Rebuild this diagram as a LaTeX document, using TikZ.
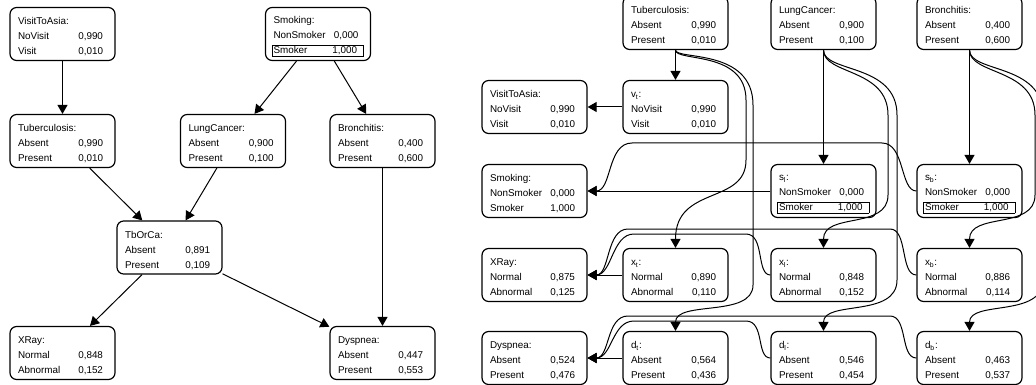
\documentclass[tikz,border=0pt]{standalone}
\usepackage{fontspec}
\setmainfont{Liberation Sans}
\usetikzlibrary{arrows.meta}
\setlength{\parindent}{0pt}
\setlength{\fboxsep}{0.75pt}
\setlength{\fboxrule}{0.5pt}
\newcommand{\bntitle}[1]{\leavevmode\rule{0pt}{9.5pt}\hspace*{-1.5pt}#1\par}
\newcommand{\bnrow}[2]{\hbox to\linewidth{\hspace*{-1.5pt}#1\hfill#2\hspace*{1.5pt}}}
\newcommand{\bnev}[2]{\hbox to\linewidth{\hspace*{-2.75pt}\fbox{\hbox to 66.5pt{#1\hfill#2\hspace*{3.75pt}}}\hss}}
\newcommand{\bnstates}[5]{\bntitle{#1}\bnrow{#2}{#3}\bnrow{#4}{#5}}
\newcommand{\bnstatesev}[5]{\bntitle{#1}\bnrow{#2}{#3}\bnev{#4}{#5}}

\begin{document}
\begin{tikzpicture}[x=0.75pt,y=-0.75pt,
  bn/.style={draw,rounded corners=5pt,line width=0.9pt,text width=63.75pt,inner xsep=7.5pt,inner ysep=0pt,minimum height=39.75pt,font=\fontsize{7.4}{11.25}\selectfont},
  link/.style={-{Triangle[length=6.75pt,width=7.5pt]},line width=0.75pt}]
  \useasboundingbox (0,0) rectangle (1036,385);
  \clip (0,0) rectangle (1036,385);

  \node[bn] (visit) at (62.5,34) {\bnstates{VisitToAsia:}{NoVisit}{0,990}{Visit}{0,010}};
  \node[bn] (smoking) at (318,34) {\bnstatesev{Smoking:}{NonSmoker}{0,000}{Smoker}{1,000}};
  \node[bn] (tb) at (62.5,141) {\bnstates{Tuberculosis:}{Absent}{0,990}{Present}{0,010}};
  \node[bn] (lc) at (233,141) {\bnstates{LungCancer:}{Absent}{0,900}{Present}{0,100}};
  \node[bn] (bc) at (382.5,141) {\bnstates{Bronchitis:}{Absent}{0,400}{Present}{0,600}};
  \node[bn] (tborca) at (169.5,247.5) {\bnstates{TbOrCa:}{Absent}{0,891}{Present}{0,109}};
  \node[bn] (xray) at (62.5,353) {\bnstates{XRay:}{Normal}{0,848}{Abnormal}{0,152}};
  \node[bn] (dysp) at (382.5,353) {\bnstates{Dyspnea:}{Absent}{0,447}{Present}{0,553}};
  \draw[link] (visit) -- (tb);
  \draw[link] (smoking) -- (lc);
  \draw[link] (smoking) -- (bc);
  \draw[link] (tb) -- (tborca);
  \draw[link] (lc) -- (tborca);
  \draw[link] (tborca) -- (xray);
  \draw[link] (tborca) -- (dysp);
  \draw[link] (bc) -- (dysp);

  \node[bn] (rtb) at (675.5,23) {\bnstates{Tuberculosis:}{Absent}{0,990}{Present}{0,010}};
  \node[bn] (rlc) at (823.5,23) {\bnstates{LungCancer:}{Absent}{0,900}{Present}{0,100}};
  \node[bn] (rbc) at (969.5,23) {\bnstates{Bronchitis:}{Absent}{0,400}{Present}{0,600}};
  \node[bn] (rvisit) at (534.5,107) {\bnstates{VisitToAsia:}{NoVisit}{0,990}{Visit}{0,010}};
  \node[bn] (vt) at (675.5,107) {\bnstates{v\textsubscript{t}:}{NoVisit}{0,990}{Visit}{0,010}};
  \node[bn] (rsmoking) at (534.5,191) {\bnstates{Smoking:}{NonSmoker}{0,000}{Smoker}{1,000}};
  \node[bn] (sl) at (823.5,191) {\bnstatesev{s\textsubscript{l}:}{NonSmoker}{0,000}{Smoker}{1,000}};
  \node[bn] (sb) at (969.5,191) {\bnstatesev{s\textsubscript{b}:}{NonSmoker}{0,000}{Smoker}{1,000}};
  \node[bn] (rxray) at (534.5,275) {\bnstates{XRay:}{Normal}{0,875}{Abnormal}{0,125}};
  \node[bn] (xt) at (675.5,275) {\bnstates{x\textsubscript{t}:}{Normal}{0,890}{Abnormal}{0,110}};
  \node[bn] (xl) at (823.5,275) {\bnstates{x\textsubscript{l}:}{Normal}{0,848}{Abnormal}{0,152}};
  \node[bn] (xb) at (969.5,275) {\bnstates{x\textsubscript{b}:}{Normal}{0,886}{Abnormal}{0,114}};
  \node[bn] (rdysp) at (534.5,358) {\bnstates{Dyspnea:}{Absent}{0,524}{Present}{0,476}};
  \node[bn] (dt) at (675.5,358) {\bnstates{d\textsubscript{t}:}{Absent}{0,564}{Present}{0,436}};
  \node[bn] (dl) at (823.5,358) {\bnstates{d\textsubscript{l}:}{Absent}{0,546}{Present}{0,454}};
  \node[bn] (db) at (969.5,358) {\bnstates{d\textsubscript{b}:}{Absent}{0,463}{Present}{0,537}};

  \draw[link] (rtb) -- (vt);
  \draw[link] (vt) -- (rvisit);
  \draw[link] (rlc) -- (sl);
  \draw[link] (sl) -- (rsmoking);
  \draw[link] (rbc) -- (sb);
  \draw[link] (xt) -- (rxray);
  \draw[link] (dt) -- (rdysp);
  \draw[link] (rtb.south) .. controls (675.5,62) and (746,50) .. (746,100) -- (746,160) .. controls (746,205) and (675.5,185) .. (xt.north);
  \draw[link] (rtb.south) .. controls (675.5,60) and (753,48) .. (753,105) -- (753,285) .. controls (753,318) and (675.5,300) .. (dt.north);
  \draw[link] (rlc.south) .. controls (823.5,75) and (888,68) .. (888,115) -- (888,195) .. controls (888,230) and (823.5,212) .. (xl.north);
  \draw[link] (rlc.south) .. controls (823.5,73) and (897,63) .. (897,115) -- (897,280) .. controls (897,318) and (823.5,300) .. (dl.north);
  \draw[link] (rbc.south) .. controls (969.5,75) and (1035,68) .. (1035,115) -- (1035,195) .. controls (1035,230) and (969.5,212) .. (xb.north);
  \draw[link] (rbc.south) .. controls (969.5,73) and (1043,63) .. (1043,115) -- (1043,280) .. controls (1043,318) and (969.5,300) .. (db.north);
  \draw[link] (sb.west) .. controls (900,191) and (905,143) .. (882,143) -- (632,143) .. controls (607,143) and (612,191) .. (rsmoking.east);
  \draw[link] (xl.west) .. controls (756,275) and (765,234) .. (746,234) -- (634,234) .. controls (612,234) and (612,275) .. (rxray.east);
  \draw[link] (xb.west) .. controls (900,275) and (908,229) .. (890,229) -- (628,229) .. controls (606,229) and (610,275) .. (rxray.east);
  \draw[link] (dl.west) .. controls (756,358) and (765,321) .. (746,321) -- (634,321) .. controls (612,321) and (612,358) .. (rdysp.east);
  \draw[link] (db.west) .. controls (900,358) and (908,316) .. (890,316) -- (628,316) .. controls (606,316) and (610,358) .. (rdysp.east);
\end{tikzpicture}
\end{document}
